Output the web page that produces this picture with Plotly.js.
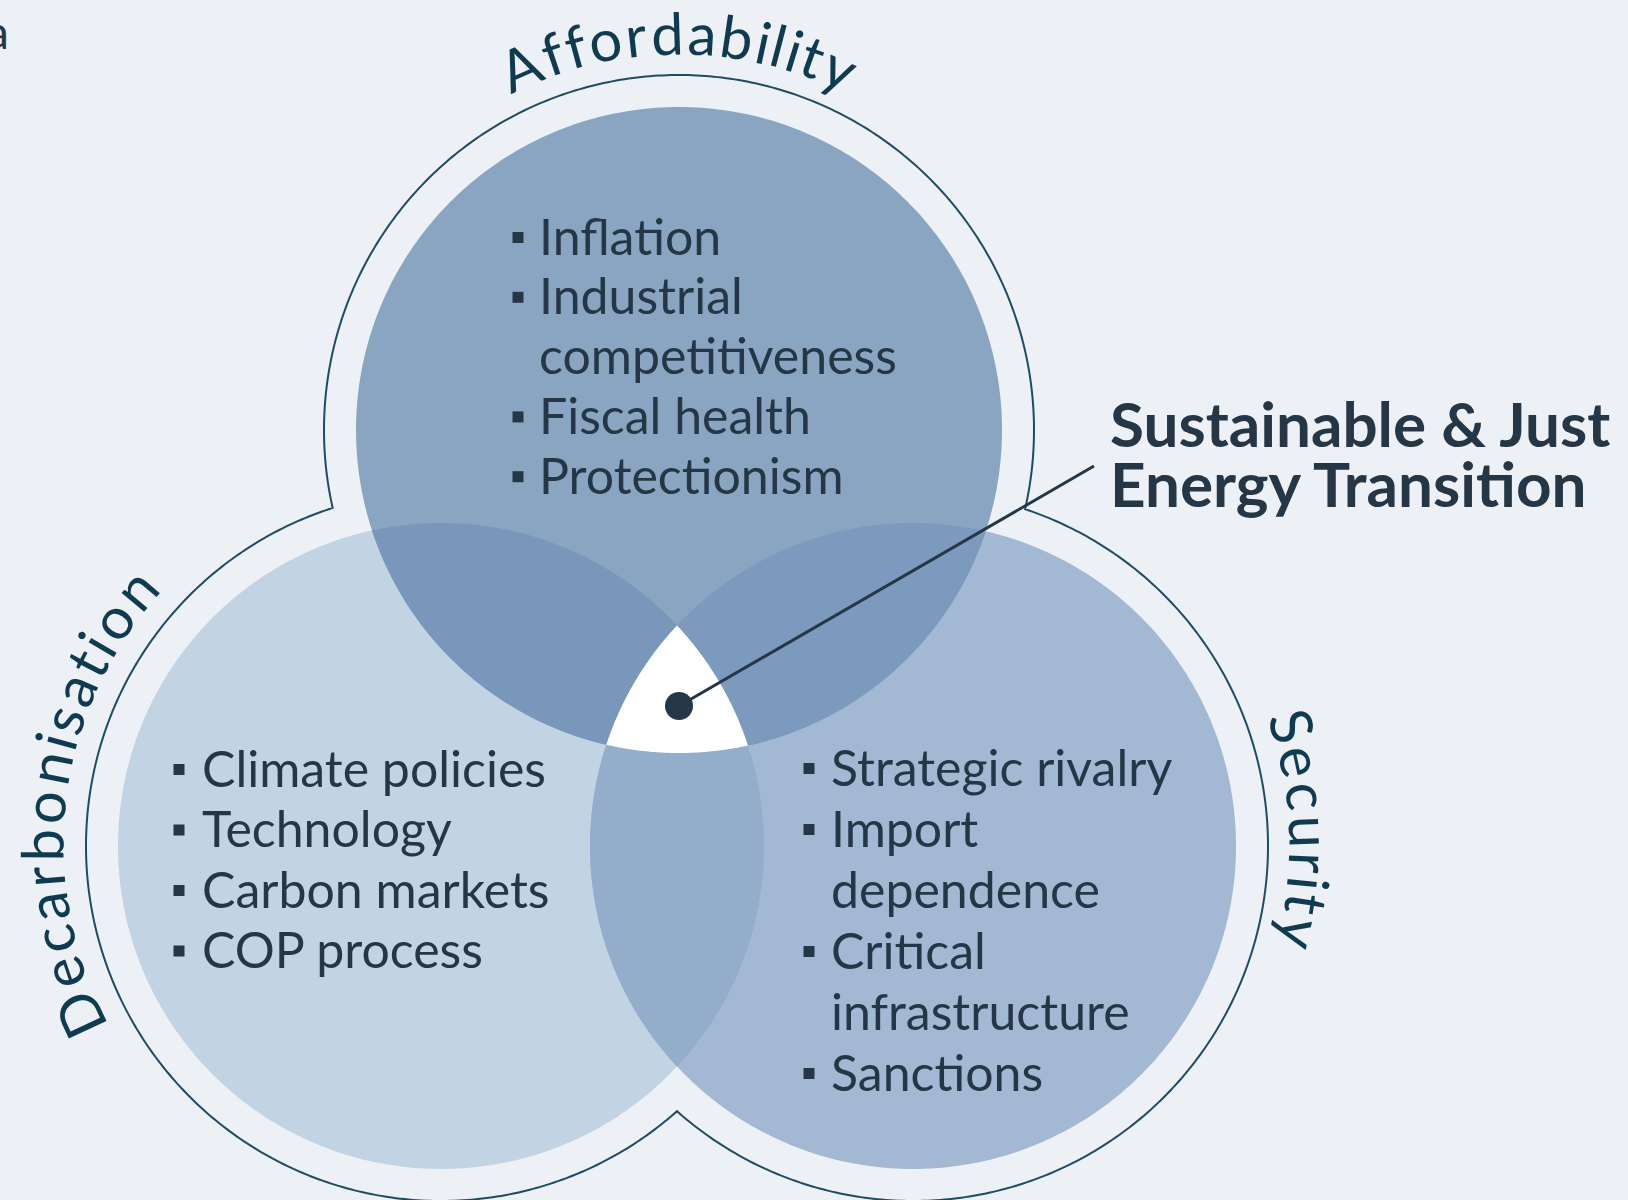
<!DOCTYPE html>
<html>
<head>
<meta charset="utf-8">
<script src="https://cdn.plot.ly/plotly-3.0.1.min.js"></script>
<style>html,body{margin:0;padding:0;background:#EDF0F5;}#chart{width:1628px;height:1200px;}</style>
</head>
<body>
<div id="chart"></div>
<script>
// ---------- DATA ----------
const circleLabels = ['Affordability', 'Decarbonisation', 'Security'];
const affordabilityItems = [['Inflation'], ['Industrial', 'competitiveness'], ['Fiscal health'], ['Protectionism']];
const decarbonisationItems = [['Climate policies'], ['Technology'], ['Carbon markets'], ['COP process']];
const securityItems = [['Strategic rivalry'], ['Import', 'dependence'], ['Critical', 'infrastructure'], ['Sanctions']];
const centreLabel = ['Sustainable & Just', 'Energy Transition'];
const cornerText = 'a';

// ---------- LAYOUT / GEOMETRY ----------
const W = 1628, H = 1200;
const C = {T: {x: 679, y: 430}, L: {x: 441, y: 846}, R: {x: 913, y: 846}};
const rIn = 323, rOut = 355;
const col = {
  bg: '#EDF0F5', T: '#8AA5C1', L: '#C2D3E4', R: '#A3B8D2',
  TL: '#7997BA', TR: '#7B9ABE', LR: '#93ADCB', centre: '#FFFFFF',
  outline: '#1E4D63', label: '#0E3B50', text: '#253746'
};
const FONT = 'Lato, "Open Sans", sans-serif';

function intersect(c1, r1, c2, r2) {
  const dx = c2.x - c1.x, dy = c2.y - c1.y, d = Math.hypot(dx, dy);
  const a = (r1 * r1 - r2 * r2 + d * d) / (2 * d);
  const h = Math.sqrt(Math.max(0, r1 * r1 - a * a));
  const mx = c1.x + a * dx / d, my = c1.y + a * dy / d;
  return [{x: mx + h * dy / d, y: my - h * dx / d}, {x: mx - h * dy / d, y: my + h * dx / d}];
}
const dist = (p, q) => Math.hypot(p.x - q.x, p.y - q.y);
const nearer = (pts, ref) => dist(pts[0], ref) < dist(pts[1], ref) ? pts[0] : pts[1];
const farther = (pts, ref) => dist(pts[0], ref) > dist(pts[1], ref) ? pts[0] : pts[1];
const ang = (c, p) => Math.atan2(p.y - c.y, p.x - c.x);
function arcPts(c, r, p0, p1, towards, n) {
  n = n || 120;
  const TAU = 2 * Math.PI;
  const a0 = ang(c, p0), a1 = ang(c, p1), am = ang(c, towards);
  const d = (((a1 - a0) % TAU) + TAU) % TAU;
  const m = (((am - a0) % TAU) + TAU) % TAU;
  const sweep = m <= d ? d : d - TAU;
  const out = [];
  for (let i = 0; i <= n; i++) {
    const a = a0 + sweep * i / n;
    out.push({x: c.x + r * Math.cos(a), y: c.y + r * Math.sin(a)});
  }
  return out;
}
function pathOf(pts) {
  return 'M' + pts.map(p => p.x.toFixed(2) + ',' + p.y.toFixed(2)).join('L') + 'Z';
}
function circlePts(c, r) {
  const out = [];
  for (let i = 0; i < 360; i++) { const a = i * Math.PI / 180; out.push({x: c.x + r * Math.cos(a), y: c.y + r * Math.sin(a)}); }
  return out;
}
function lens(a, b) {
  const [p, q] = intersect(C[a], rIn, C[b], rIn);
  return arcPts(C[a], rIn, p, q, C[b]).concat(arcPts(C[b], rIn, q, p, C[a]));
}
const centroid = {x: (C.T.x + C.L.x + C.R.x) / 3, y: (C.T.y + C.L.y + C.R.y) / 3};

const shapes = [];
function addFill(pts, color) {
  shapes.push({type: 'path', xref: 'x', yref: 'y', path: pathOf(pts), fillcolor: color, line: {width: 0}, layer: 'below'});
}
addFill(circlePts(C.L, rIn), col.L);
addFill(circlePts(C.R, rIn), col.R);
addFill(circlePts(C.T, rIn), col.T);
addFill(lens('T', 'L'), col.TL);
addFill(lens('T', 'R'), col.TR);
addFill(lens('L', 'R'), col.LR);
// triple intersection
const vLR = nearer(intersect(C.L, rIn, C.R, rIn), C.T);
const vTR = nearer(intersect(C.T, rIn, C.R, rIn), C.L);
const vTL = nearer(intersect(C.T, rIn, C.L, rIn), C.R);
addFill(arcPts(C.R, rIn, vLR, vTR, centroid).concat(arcPts(C.T, rIn, vTR, vTL, centroid), arcPts(C.L, rIn, vTL, vLR, centroid)), col.centre);
// outer outline
const cTL = farther(intersect(C.T, rOut, C.L, rOut), centroid);
const cTR = farther(intersect(C.T, rOut, C.R, rOut), centroid);
const cB = farther(intersect(C.L, rOut, C.R, rOut), centroid);
const outline = arcPts(C.T, rOut, cTL, cTR, {x: C.T.x, y: C.T.y - 100}, 300)
  .concat(arcPts(C.R, rOut, cTR, cB, {x: C.R.x + 100, y: C.R.y}, 300))
  .concat(arcPts(C.L, rOut, cB, cTL, {x: C.L.x - 100, y: C.L.y}, 300));
shapes.push({type: 'path', xref: 'x', yref: 'y', path: pathOf(outline), fillcolor: 'rgba(0,0,0,0)', line: {width: 2, color: col.outline}, layer: 'below'});

// ---------- TEXT ----------
const annotations = [];
const BODY = 50;
function textLine(txt, x, baseline, size, bold, color) {
  annotations.push({
    x: x, y: baseline - 0.39 * size, xref: 'x', yref: 'y', xanchor: 'left', yanchor: 'middle',
    text: bold ? '<b>' + txt + '</b>' : txt, showarrow: false,
    font: {family: FONT, size: size, color: color || col.text}
  });
}
const bulletX = [], bulletY = [];
function list(items, x, firstBase, step, bx) {
  let k = 0;
  items.forEach(item => {
    item.forEach((line, j) => {
      const base = firstBase + step * k;
      textLine(line, x, base, BODY, false);
      if (j === 0) { bulletX.push(bx); bulletY.push(base - 17.5); }
      k++;
    });
  });
}
list(affordabilityItems, 537, 255, 59.8, 518);
list(decarbonisationItems, 200, 787, 60.5, 179);
list(securityItems, 829, 786, 61, 809);
textLine(centreLabel[0], 1108, 447, 62, true);
textLine(centreLabel[1], 1108, 507, 62, true);
annotations.push({x: 11, y: 31, xref: 'x', yref: 'y', xanchor: 'right', yanchor: 'middle', text: cornerText,
  showarrow: false, font: {family: FONT, size: 46, color: col.text}});

// curved labels, one character per annotation placed along the outline arc
const cv = document.createElement('canvas').getContext('2d');
function arcLabel(text, c, r, a0, a1, size) {
  cv.font = size + 'px Lato';
  const chars = Array.from(text);
  const w = chars.map(ch => cv.measureText(ch).width || size * 0.5);
  const s = []; let acc = 0;
  w.forEach(wi => { s.push(acc + wi / 2); acc += wi; });
  const span = s[s.length - 1] - s[0];
  chars.forEach((ch, i) => {
    const th = a0 + (s[i] - s[0]) / span * (a1 - a0);
    const t = th * Math.PI / 180;
    annotations.push({
      x: c.x + r * Math.cos(t), y: c.y + r * Math.sin(t), xref: 'x', yref: 'y',
      xanchor: 'center', yanchor: 'middle', text: ch, showarrow: false, textangle: th + 90,
      font: {family: FONT, size: size, color: col.label}
    });
  });
}
arcLabel(circleLabels[0], C.T, 398, -113.5, -66, 58);
arcLabel(circleLabels[1], C.L, 400, 155, 220, 58);
arcLabel(circleLabels[2], C.R, 399, -17.6, 12.8, 58);

// ---------- TRACES ----------
const traces = [
  {x: bulletX, y: bulletY, mode: 'markers', type: 'scatter', hoverinfo: 'skip',
   marker: {symbol: 'square', size: 11, color: col.text}},
  {x: [679, 1094], y: [706, 466], mode: 'lines', type: 'scatter', hoverinfo: 'skip',
   line: {color: col.text, width: 3}},
  {x: [679], y: [706], mode: 'markers', type: 'scatter', hoverinfo: 'skip',
   marker: {size: 28, color: col.text}}
];

const layout = {
  width: W, height: H, margin: {l: 0, r: 0, t: 0, b: 0, pad: 0},
  paper_bgcolor: col.bg, plot_bgcolor: col.bg, showlegend: false,
  xaxis: {range: [0, W], visible: false, fixedrange: true},
  yaxis: {range: [H, 0], visible: false, fixedrange: true},
  shapes: shapes, annotations: annotations
};
Plotly.newPlot('chart', traces, layout, {staticPlot: true, displayModeBar: false});
</script>
</body>
</html>
